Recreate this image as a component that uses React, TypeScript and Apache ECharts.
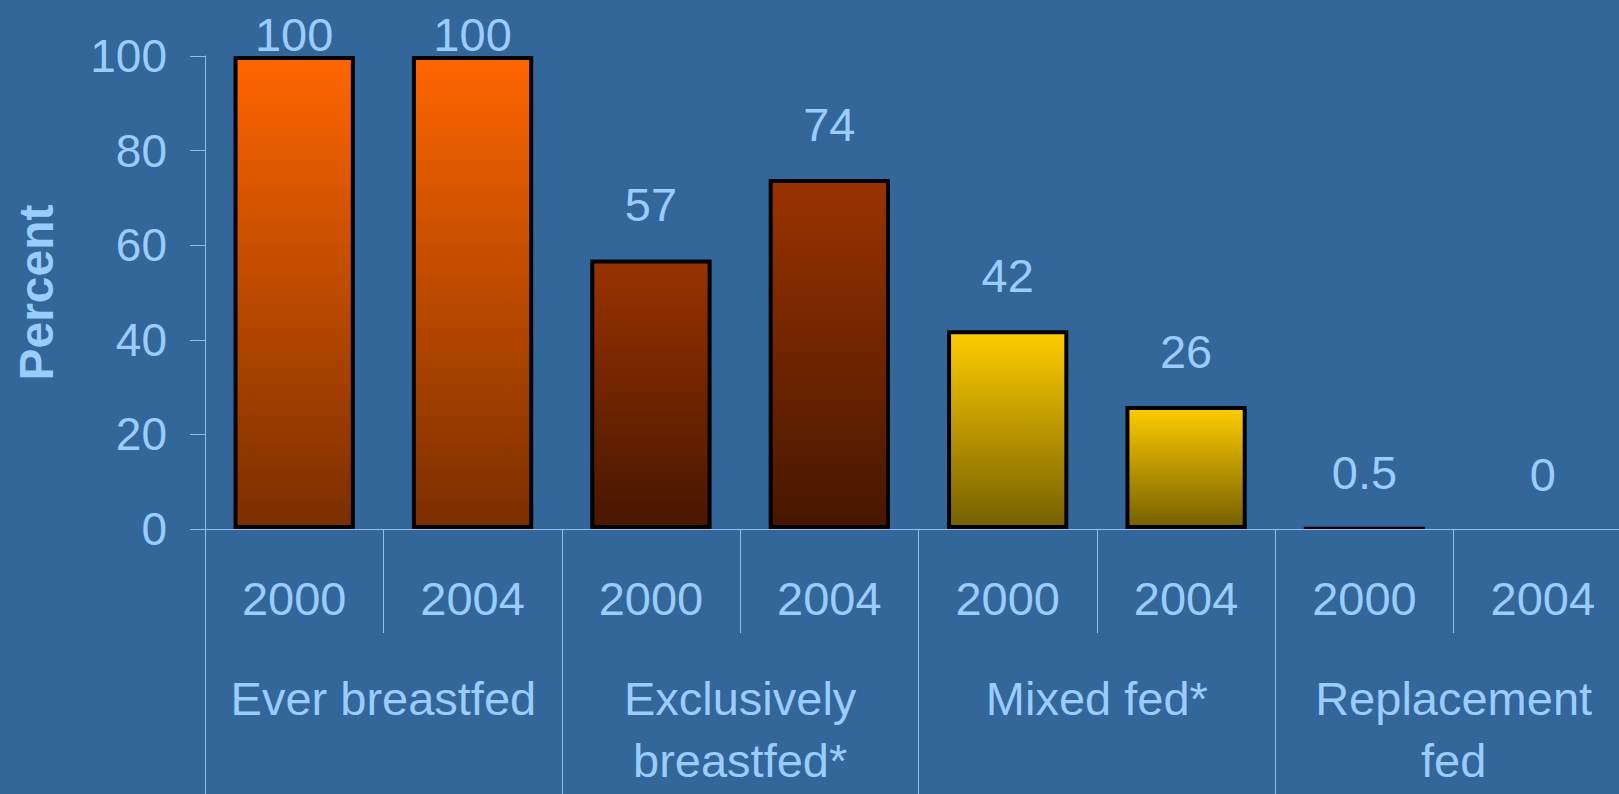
import React, { useEffect, useRef } from "react";
import * as echarts from "echarts";

const years = ["2000", "2004", "2000", "2004", "2000", "2004", "2000", "2004"];
const groups = ["Ever breastfed", "Exclusively\nbreastfed*", "Mixed fed*", "Replacement\nfed"];
const values = [100, 100, 57, 74, 42, 26, 0.5, 0];
const groupTop = ["#FF6600", "#993300", "#FFCC00", "#F2BB88"];
const groupBottom = ["#7A2E00", "#471600", "#756000", "#F2BB88"];
const yTicks = [0, 20, 40, 60, 80, 100];

const FONT = "'Liberation Sans', Arial, sans-serif";
const TXT = "#99CCFF";
const LINE = "#8FBFEF";

export default function App() {
  const ref = useRef<HTMLDivElement>(null);
  useEffect(() => {
    if (!ref.current) return;
    const chart = echarts.init(ref.current, null, { renderer: "svg" });
    const data = values.map((v, i) => {
      const g = Math.floor(i / 2);
      const item: any = {
        value: v,
        itemStyle: {
          color: new echarts.graphic.LinearGradient(0, 0, 0, 1, [
            { offset: 0, color: groupTop[g] },
            { offset: 1, color: groupBottom[g] },
          ]),
          borderColor: "#000",
          borderWidth: 4,
        },
      };
      if (v >= 100) item.label = { distance: -2 };
      if (v > 0 && v < 1) item.itemStyle.borderWidth = 2;
      if (v === 0) item.itemStyle = { color: "transparent", borderWidth: 0 };
      return item;
    });
    chart.setOption({
      animation: false,
      backgroundColor: "#336699",
      textStyle: { fontFamily: FONT },
      grid: {
        left: 205,
        top: 56,
        height: 473,
        width: 1427,
        containLabel: false,
        outerBoundsMode: "none",
      },
      xAxis: [
        {
          type: "category",
          data: years,
          position: "bottom",
          axisLine: { show: true, lineStyle: { color: LINE, width: 1 } },
          axisTick: { show: true, alignWithLabel: false, interval: 0, length: 104, lineStyle: { color: LINE, width: 1 } },
          axisLabel: { color: TXT, fontSize: 47, fontFamily: FONT, margin: 46, lineHeight: 47, interval: 0 },
        },
        {
          type: "category",
          data: groups,
          position: "bottom",
          axisLine: { show: false },
          axisTick: { show: true, interval: 0, length: 280, lineStyle: { color: LINE, width: 1 } },
          axisLabel: { color: TXT, fontSize: 47, fontFamily: FONT, margin: 138, lineHeight: 62, interval: 0 },
        },
      ],
      yAxis: {
        type: "value",
        min: 0,
        max: 100,
        interval: 20,
        name: "Percent",
        nameLocation: "middle",
        nameGap: 145,
        nameTextStyle: { color: TXT, fontSize: 48, fontWeight: "bold", fontFamily: FONT },
        axisLine: { show: true, lineStyle: { color: LINE, width: 1 } },
        axisTick: { show: true, length: 15, lineStyle: { color: LINE, width: 1 } },
        axisLabel: {
          color: TXT,
          fontSize: 46,
          fontFamily: FONT,
          margin: 38,
          formatter: (v: number) => (yTicks.includes(v) ? String(v) : ""),
        },
        splitLine: { show: false },
      },
      series: [
        {
          type: "bar",
          xAxisIndex: 0,
          data,
          barWidth: "68%",
          label: {
            show: true,
            position: "top",
            distance: 31,
            color: TXT,
            fontSize: 47,
            fontFamily: FONT,
            formatter: (p: any) => String(p.value),
          },
        },
      ],
    });
    return () => chart.dispose();
  }, []);
  return (
    <div
      ref={ref}
      style={{ position: "fixed", left: 0, top: 0, width: 1619, height: 794 }}
    />
  );
}
